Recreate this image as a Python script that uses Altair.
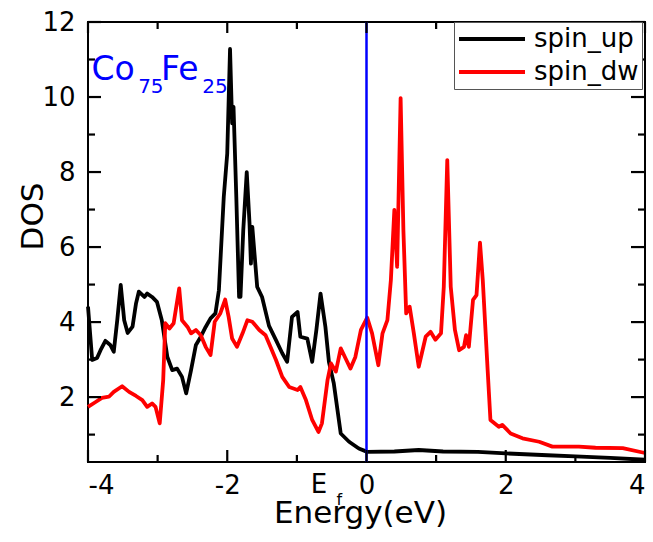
import altair as alt
import pandas as pd

# ---------------- data ----------------
up_x = [-4.00, -3.94, -3.87, -3.82, -3.75, -3.68, -3.63, -3.58, -3.53, -3.48, -3.43, -3.36,
        -3.31, -3.27, -3.19, -3.15, -3.08, -3.01, -2.94, -2.86, -2.79, -2.72, -2.65, -2.59,
        -2.52, -2.45, -2.38, -2.31, -2.24, -2.17, -2.12, -2.05, -2.00, -1.96, -1.93, -1.91,
        -1.87, -1.83, -1.81, -1.77, -1.72, -1.68, -1.66, -1.64, -1.57, -1.50, -1.40, -1.30,
        -1.21, -1.14, -1.07, -0.99, -0.95, -0.85, -0.78, -0.72, -0.66, -0.59, -0.54, -0.47,
        -0.37, -0.25, -0.11, 0.01, 0.40, 0.75, 1.10, 1.60, 2.00, 2.60, 3.00, 3.50, 4.00]
up_y = [4.41, 2.99, 3.04, 3.25, 3.50, 3.39, 3.21, 4.05, 4.99, 4.05, 3.71, 3.88,
        4.50, 4.81, 4.67, 4.76, 4.67, 4.54, 4.05, 3.07, 2.72, 2.76, 2.54, 2.10,
        2.72, 3.39, 3.61, 3.87, 4.10, 4.23, 4.85, 7.34, 8.50, 11.28, 9.30, 9.74,
        7.34, 4.67, 4.67, 6.45, 8.00, 6.63, 5.56, 6.54, 4.94, 4.67, 3.90, 3.52,
        3.17, 2.94, 4.14, 4.27, 3.61, 3.56, 2.94, 3.79, 4.76, 3.87, 2.94, 2.37,
        1.03, 0.81, 0.63, 0.54, 0.55, 0.59, 0.55, 0.54, 0.50, 0.45, 0.42, 0.38, 0.33]

dw_x = [-4.00, -3.89, -3.80, -3.70, -3.63, -3.51, -3.41, -3.31, -3.22, -3.15, -3.08, -3.03,
        -2.97, -2.92, -2.89, -2.83, -2.77, -2.69, -2.65, -2.57, -2.52, -2.45, -2.38, -2.31,
        -2.24, -2.18, -2.10, -2.03, -1.98, -1.93, -1.86, -1.78, -1.71, -1.64, -1.54, -1.45,
        -1.38, -1.30, -1.21, -1.11, -0.99, -0.95, -0.87, -0.78, -0.69, -0.64, -0.56, -0.51,
        -0.44, -0.37, -0.30, -0.23, -0.16, -0.08, 0.01, 0.08, 0.17, 0.23, 0.30, 0.35,
        0.40, 0.44, 0.49, 0.53, 0.57, 0.62, 0.68, 0.75, 0.85, 0.92, 0.99, 1.07,
        1.11, 1.16, 1.21, 1.27, 1.33, 1.40, 1.43, 1.47, 1.53, 1.58, 1.63, 1.67,
        1.74, 1.78, 1.90, 1.95, 2.07, 2.24, 2.48, 2.67, 3.05, 3.29, 3.68, 4.00]
dw_y = [1.74, 1.87, 1.98, 2.01, 2.14, 2.29, 2.14, 2.03, 1.92, 1.74, 1.83, 1.74,
        1.30, 2.45, 3.97, 3.83, 3.97, 4.90, 4.05, 3.87, 3.70, 3.79, 3.65, 3.34,
        3.12, 4.01, 4.23, 4.60, 4.14, 3.56, 3.34, 3.70, 4.05, 4.01, 3.79, 3.65,
        3.34, 2.99, 2.54, 2.27, 2.19, 2.27, 1.92, 1.39, 1.07, 1.30, 2.45, 2.90,
        2.68, 3.30, 3.03, 2.76, 3.07, 3.79, 4.12, 3.70, 2.85, 3.70, 4.05, 5.12,
        6.99, 5.47, 9.97, 6.45, 4.23, 4.41, 3.70, 2.81, 3.61, 3.74, 3.53, 3.70,
        4.94, 8.32, 4.94, 3.79, 3.25, 3.34, 3.65, 3.34, 4.59, 4.72, 6.12, 5.12,
        2.72, 1.39, 1.21, 1.26, 1.03, 0.90, 0.81, 0.68, 0.68, 0.65, 0.64, 0.51]

series_names = ["spin_up", "spin_dw"]
series_colors = ["#000000", "#ff0000"]

fermi_level = [0]

x_major = [-4, -2, 0, 2, 4]
x_minor = [-3, -1, 1, 3]
y_major = [2, 4, 6, 8, 10, 12]
y_minor = [1, 3, 5, 7, 9, 11]

comp_text = ["Co", "75", "Fe", "25"]
comp_x = [-3.95, -3.28, -2.95, -2.36]
comp_y = [10.45, 10.12, 10.45, 10.12]
comp_size = [33, 20, 33, 20]

ef_text = ["E", "f"]
ef_x = [-0.80, -0.43]
ef_y = [-0.56, -0.88]
ef_size = [26, 16]

# ---------------- layout / style ----------------
W, H = 557, 440
XMIN, XMAX = -4, 4
YMIN, YMAX = 0.27, 12
FONT = "DejaVu Sans"
BLUE = "#0000ff"

xs = alt.Scale(domain=[XMIN, XMAX], nice=False, zero=False)
ys = alt.Scale(domain=[YMIN, YMAX], nice=False, zero=False)
PX_X = (XMAX - XMIN) / W   # data units per pixel, x
PX_Y = (YMAX - YMIN) / H   # data units per pixel, y

x_axis = alt.Axis(
    values=x_major, labelExpr="toString(datum.value)", title="Energy(eV)",
    ticks=False, tickSize=0, domain=False, grid=False,
    labelFontSize=26, labelPadding=31, labelBaseline="alphabetic",
    titleFontSize=31, titleX=272, titleY=60, titleBaseline="alphabetic",
    titleAlign="center")
y_axis = alt.Axis(
    values=y_major, title="DOS", ticks=False, tickSize=0, domain=False, grid=False,
    labelFontSize=26, labelPadding=13,
    titleFontSize=31, titleX=-46, titleY=194, titleAngle=270,
    titleBaseline="alphabetic", titleAlign="center")

lines_df = pd.DataFrame({
    "E": up_x + dw_x,
    "DOS": up_y + dw_y,
    "series": ["spin_up"] * len(up_x) + ["spin_dw"] * len(dw_x),
})

lines = alt.Chart(lines_df).mark_line(strokeWidth=3.8, strokeJoin="round").encode(
    x=alt.X("E:Q", scale=xs, axis=x_axis),
    y=alt.Y("DOS:Q", scale=ys, axis=y_axis),
    color=alt.Color("series:N", scale=alt.Scale(domain=series_names, range=series_colors),
                    legend=alt.Legend(title=None, orient="none", legendX=366, legendY=0,
                                      symbolType="stroke", symbolSize=4356,
                                      symbolStrokeWidth=4, clipHeight=28, rowPadding=5,
                                      padding=3, labelOffset=7, labelFontSize=26,
                                      labelFont=FONT, labelColor="black",
                                      strokeColor="#555555", fillColor="white")),
    detail="series:N",
)

fermi_df = pd.DataFrame({"E": fermi_level, "lo": [YMIN], "hi": [YMAX]})
fermi = alt.Chart(fermi_df).mark_rule(color=BLUE, strokeWidth=2.5).encode(
    x=alt.X("E:Q", scale=xs, axis=x_axis),
    y=alt.Y("lo:Q", scale=ys, axis=y_axis), y2="hi:Q")


def xticks(vals, length, top):
    lo = YMAX - length * PX_Y if top else YMIN
    hi = YMAX if top else YMIN + length * PX_Y
    df = pd.DataFrame({"E": vals, "lo": [lo] * len(vals), "hi": [hi] * len(vals)})
    return alt.Chart(df).mark_rule(color="#000000", strokeWidth=2.2).encode(
        x=alt.X("E:Q", scale=xs, axis=x_axis),
        y=alt.Y("lo:Q", scale=ys, axis=y_axis), y2="hi:Q")


def yticks(vals, length, right):
    lo = XMAX - length * PX_X if right else XMIN
    hi = XMAX if right else XMIN + length * PX_X
    df = pd.DataFrame({"DOS": vals, "lo": [lo] * len(vals), "hi": [hi] * len(vals)})
    return alt.Chart(df).mark_rule(color="#000000", strokeWidth=2.2).encode(
        y=alt.Y("DOS:Q", scale=ys, axis=y_axis),
        x=alt.X("lo:Q", scale=xs, axis=x_axis), x2="hi:Q")


tick_layers = [
    xticks(x_major, 12, False), xticks(x_minor, 7, False),
    xticks(x_major, 11, True), xticks(x_minor, 7, True),
    yticks(y_major, 13, False), yticks(y_minor, 7, False),
    yticks(y_major, 14, True), yticks(y_minor, 7, True),
]

comp_df = pd.DataFrame({"t": comp_text, "E": comp_x, "DOS": comp_y, "s": comp_size})
comp = alt.Chart(comp_df).mark_text(align="left", baseline="alphabetic", color=BLUE,
                                    font=FONT).encode(
    x=alt.X("E:Q", scale=xs, axis=x_axis), y=alt.Y("DOS:Q", scale=ys, axis=y_axis),
    text="t:N", size=alt.Size("s:Q", scale=None, legend=None))

ef_df = pd.DataFrame({"t": ef_text, "E": ef_x, "DOS": ef_y, "s": ef_size})
ef = alt.Chart(ef_df).mark_text(align="left", baseline="alphabetic", color="black",
                                font=FONT).encode(
    x=alt.X("E:Q", scale=xs, axis=x_axis), y=alt.Y("DOS:Q", scale=ys, axis=y_axis),
    text="t:N", size=alt.Size("s:Q", scale=None, legend=None))

chart = alt.layer(lines, fermi, *tick_layers, comp, ef).properties(
    width=W, height=H,
    padding={"left": 88, "top": 22, "right": 8, "bottom": 80},
    autosize=alt.AutoSizeParams(type="none"),
).configure_view(stroke="black", strokeWidth=2).configure_axis(
    labelFont=FONT, titleFont=FONT, labelColor="black", titleColor="black",
    titleFontWeight="normal", grid=False
).configure_legend(labelFont=FONT)

chart.save("out.html", embed_options={"renderer": "svg", "actions": False})
